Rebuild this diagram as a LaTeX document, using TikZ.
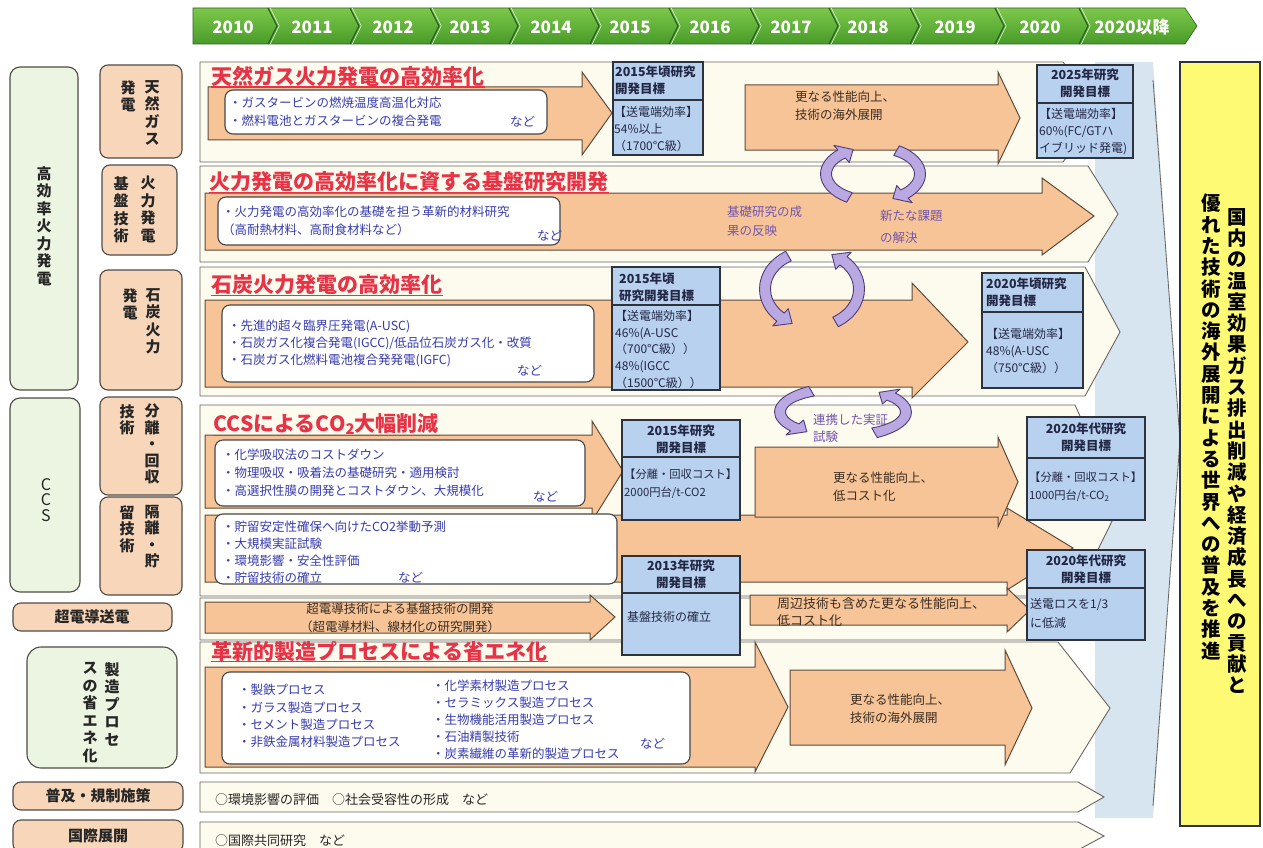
\documentclass[tikz,border=0pt]{standalone}
\usepackage{fontspec}
\setmainfont{Noto Sans CJK JP}
\usetikzlibrary{calc}
\definecolor{cream}{RGB}{253,250,238}
\definecolor{rowline}{RGB}{105,100,95}
\definecolor{orng}{RGB}{246,196,150}
\definecolor{orngline}{RGB}{95,75,60}
\definecolor{lblue}{RGB}{184,209,238}
\definecolor{bline}{RGB}{45,50,60}
\definecolor{btext}{RGB}{35,40,70}
\definecolor{wline}{RGB}{70,70,75}
\definecolor{bluetxt}{RGB}{55,60,175}
\definecolor{titlered}{RGB}{232,50,70}
\definecolor{peach}{RGB}{247,214,186}
\definecolor{pgreen}{RGB}{236,245,226}
\definecolor{lbline}{RGB}{80,75,70}
\definecolor{ygold}{RGB}{255,250,115}
\definecolor{bigblue}{RGB}{214,229,240}
\definecolor{yrtop}{RGB}{125,200,75}
\definecolor{yrbot}{RGB}{72,155,40}
\definecolor{yrdark}{RGB}{40,100,28}
\definecolor{purpf}{RGB}{185,168,225}
\definecolor{purpd}{RGB}{80,60,120}
\definecolor{purptxt}{RGB}{115,85,175}
\definecolor{darktxt}{RGB}{60,45,35}
\newcommand{\fsz}[2]{\fontsize{#1}{#2}\selectfont}
% curved (elliptic) arrow: cx cy rx ry start end tip halfwidth
\newcommand{\cyc}[8]{%
 \pgfmathsetmacro{\rxo}{#3+#8}\pgfmathsetmacro{\ryo}{#4+#8}%
 \pgfmathsetmacro{\rxi}{#3-#8}\pgfmathsetmacro{\ryi}{#4-#8}%
 \pgfmathsetmacro{\rxa}{#3+2.1*#8}\pgfmathsetmacro{\rya}{#4+2.1*#8}%
 \pgfmathsetmacro{\rxb}{#3-2.1*#8}\pgfmathsetmacro{\ryb}{#4-2.1*#8}%
 \filldraw[cyca,shift={(#1,#2)}] ({#5}:{\rxo} and {\ryo}) arc[start angle=#5,end angle=#6,x radius=\rxo,y radius=\ryo]
   -- ({#6}:{\rxa} and {\rya}) -- ({#7}:{#3} and {#4}) -- ({#6}:{\rxb} and {\ryb})
   -- ({#6}:{\rxi} and {\ryi}) arc[start angle=#6,end angle=#5,x radius=\rxi,y radius=\ryi] -- cycle;}
\tikzset{
 rowbg/.style={fill=cream, draw=rowline, line width=0.9pt},
 oarrow/.style={fill=orng, draw=orngline, line width=1pt, line join=miter},
 wbox/.style={fill=white, draw=wline, line width=1.1pt, rounded corners=8pt},
 bbox/.style={fill=lblue, draw=bline, line width=1.4pt},
 wtxt/.style={font=\fsz{12.5}{17.5}, text=bluetxt, align=left, inner sep=0pt, anchor=north west},
 otxt/.style={font=\fsz{12.5}{18}, text=darktxt, align=left, inner sep=0pt, anchor=north west},
 ptxt/.style={font=\fsz{12.5}{19}, text=purptxt, align=left, inner sep=0pt, anchor=north west},
 hdr/.style={font=\bfseries\fsz{12.5}{17}, text=btext, inner sep=0pt, anchor=north, align=center},
 hdrl/.style={font=\bfseries\fsz{12.5}{17}, text=btext, inner sep=0pt, anchor=north west, align=left},
 bdy/.style={font=\fsz{12}{17}, text=btext, align=left, inner sep=0pt, anchor=north west},
 ttl/.style={font=\bfseries\fsz{21}{24}, text=titlered, inner sep=0.5pt, anchor=west},
 lbox/.style={fill=peach, draw=lbline, line width=1.1pt, rounded corners=8pt},
 gbox/.style={fill=pgreen, draw=lbline, line width=1.1pt, rounded corners=10pt},
 vtxt/.style={font=\bfseries\fsz{15}{17.5}, text=black!85, align=center, inner sep=0pt, anchor=north},
 htxt/.style={font=\bfseries\fsz{15}{17}, text=black!85, inner sep=0pt},
 ytxt/.style={font=\bfseries\fsz{19.5}{21.3}, align=center, inner sep=0pt, anchor=north},
 yrl/.style={font=\bfseries\fsz{17}{19}, text=white, inner sep=0pt},
 cyca/.style={fill=purpf, draw=purpd, line width=0.9pt, line join=round},
 rtxt/.style={font=\fsz{13}{17}, text=black!85, inner sep=0pt, anchor=west},
 ulred/.style={titlered, line width=1.3pt},
}
\begin{document}
\begin{tikzpicture}[x=1pt,y=-1pt]
\useasboundingbox (0,0) rectangle (1263,848);
\fill[white] (0,0) rectangle (1263,848);

% ---------- year bar ----------
\path[top color=yrtop, bottom color=yrbot, draw=yrdark, line width=0.6pt]
  (193,8) -- (1185,8) -- (1197,26) -- (1185,44) -- (193,44) -- cycle;
\foreach \s in {268,350,430,509,590,669,750,829,910,995,1079} {
  \draw[yrdark, line width=1.3pt] (\s,8) -- (\s+9,26) -- (\s,44);
  \draw[white!70!yrtop, line width=0.7pt] (\s+2.2,8) -- (\s+11.2,26) -- (\s+2.2,44);
}
\foreach \x/\t [count=\i] in {233/2010,312/2011,393/2012,470/2013,551/2014,630/2015,710/2016,791/2017,868/2018,955/2019,1040/2020,1132/2020以降}
  \node[yrl] (yr\i) at (\x,27) {\t};

% ---------- big light-blue arrow and yellow goal box ----------
\fill[bigblue] (1095,62) -- (1153,62) -- (1180,440) -- (1153,818) -- (1095,818) -- cycle;
\draw[rowline, line width=0.8pt] (1153,80) -- (1180,440) -- (1153,806);
\draw[fill=ygold, draw=bline, line width=1.4pt] (1180,62) rectangle (1260,826);
\node[ytxt] (goal1) at (1237,208) {国\\内\\の\\温\\室\\効\\果\\ガ\\ス\\排\\出\\削\\減\\や\\経\\済\\成\\長\\へ\\の\\貢\\献\\と};
\node[ytxt] (goal2) at (1211,194) {優\\れ\\た\\技\\術\\の\\海\\外\\展\\開\\に\\よ\\る\\世\\界\\へ\\の\\普\\及\\を\\推\\進};

% ---------- left labels ----------
\draw[gbox] (10,67) rectangle (78,390);
\node[vtxt] (lA) at (44,166) {高\\効\\率\\火\\力\\発\\電};
\draw[lbox] (100,65) rectangle (182,158);
\node[vtxt] (lA1a) at (152,80) {天\\然\\ガ\\ス};
\node[vtxt] (lA1b) at (128,80) {発\\電};
\draw[lbox] (102,165) rectangle (177,255);
\node[vtxt] (lA2a) at (148,176) {火\\力\\発\\電};
\node[vtxt] (lA2b) at (121,176) {基\\盤\\技\\術};
\draw[lbox] (100,270) rectangle (182,390);
\node[vtxt] (lA3a) at (153,288) {石\\炭\\火\\力};
\node[vtxt] (lA3b) at (130,288) {発\\電};
\draw[gbox] (10,398) rectangle (80,592);
\node[vtxt, font=\fsz{16}{15.5}] (lB) at (46,478) {C\\C\\S};
\draw[lbox] (100,397) rectangle (182,495);
\node[vtxt, font=\bfseries\fsz{15}{16.5}] (lB1a) at (152,404) {分\\離\\・\\回\\収};
\node[vtxt, font=\bfseries\fsz{15}{16.5}] (lB1b) at (127,404) {技\\術};
\draw[lbox] (100,497) rectangle (182,595);
\node[vtxt, font=\bfseries\fsz{15}{16.5}] (lB2a) at (152,505) {隔\\離\\・\\貯};
\node[vtxt, font=\bfseries\fsz{15}{16.5}] (lB2b) at (127,505) {留\\技\\術};
\draw[lbox] (13,603) rectangle (172,631);
\node[htxt] (lC) at (92,617) {超電導送電};
\draw[gbox, rounded corners=14pt] (27,647) rectangle (177,768);
\node[vtxt] (lDa) at (112,662) {製\\造\\プ\\ロ\\セ};
\node[vtxt] (lDb) at (90,662) {ス\\の\\省\\エ\\ネ\\化};
\draw[lbox] (13,782) rectangle (183,810);
\node[htxt] (lE) at (98,796) {普及・規制施策};
\draw[lbox] (13,820) rectangle (183,852);
\node[htxt] (lF) at (98,836) {国際展開};

% ---------- row backgrounds ----------
\draw[rowbg] (200,62) -- (1063,62) -- (1100,112) -- (1063,162) -- (200,162) -- cycle;
\draw[rowbg] (200,166) -- (1088,166) -- (1118,214) -- (1088,262) -- (200,262) -- cycle;
\draw[rowbg] (200,267) -- (1085,267) -- (1120,332) -- (1085,396) -- (200,396) -- cycle;
\draw[rowbg] (200,405) -- (1075,405) -- (1120,505) -- (1075,596) -- (200,596) -- cycle;
\draw[rowbg] (200,598) -- (1040,598) -- (1062,619) -- (1040,640) -- (200,640) -- cycle;
\draw[rowbg] (200,642) -- (1058,642) -- (1110,708) -- (1070,773) -- (200,773) -- cycle;
\draw[rowbg] (200,782) -- (1078,782) -- (1104,797) -- (1078,812) -- (200,812) -- cycle;
\draw[rowbg] (200,822) -- (1078,822) -- (1104,836) -- (1078,850) -- (200,850) -- cycle;

% ---------- orange arrows ----------
% row 1
\draw[oarrow] (208,87) -- (582,87) -- (582,72) -- (612,113) -- (582,155) -- (582,140) -- (208,140) -- cycle;
\draw[oarrow] (745,85) -- (998,85) -- (998,72) -- (1020,118) -- (998,164) -- (998,150) -- (745,150) -- cycle;
% row 2
\draw[oarrow] (205,193) -- (1042,193) -- (1042,178) -- (1094,216) -- (1042,255) -- (1042,250) -- (205,250) -- cycle;
% row 3
\draw[oarrow] (205,300) -- (912,300) -- (912,283) -- (968,342) -- (912,398) -- (912,387) -- (205,387) -- cycle;
% CCS
\draw[oarrow] (205,515) -- (1007,515) -- (1007,508) -- (1073,548) -- (1007,590) -- (1007,582) -- (205,582) -- cycle;
\draw[oarrow] (205,435) -- (592,435) -- (592,421) -- (623,471) -- (592,521) -- (592,508) -- (205,508) -- cycle;
\draw[oarrow] (755,447) -- (998,447) -- (998,437) -- (1018,482) -- (998,527) -- (998,517) -- (755,517) -- cycle;
% superconducting
\draw[oarrow] (205,602) -- (590,602) -- (590,595) -- (615,617) -- (590,640) -- (590,633) -- (205,633) -- cycle;
\draw[oarrow] (750,595) -- (1007,595) -- (1007,588) -- (1030,610) -- (1007,632) -- (1007,625) -- (750,625) -- cycle;
% manufacturing
\draw[oarrow] (205,667) -- (755,667) -- (755,642) -- (788,707) -- (755,772) -- (755,767) -- (205,767) -- cycle;
\draw[oarrow] (790,670) -- (1005,670) -- (1005,650) -- (1032,708) -- (1005,765) -- (1005,745) -- (790,745) -- cycle;

% ---------- white boxes with items ----------
\draw[wbox] (225,90) rectangle (547,134);
\node[wtxt, font=\fsz{12.5}{18}] (w1) at (229,97) {・ガスタービンの燃焼温度高温化対応\\・燃料電池とガスタービンの複合発電};
\node[wtxt, anchor=west] (w1n) at (510,122) {など};
\draw[wbox] (218,197) rectangle (560,245);
\node[wtxt, font=\fsz{12.5}{18}] (w2) at (222,206) {・火力発電の高効率化の基礎を担う革新的材料研究\\（高耐熱材料、高耐食材料など）};
\node[wtxt, anchor=west] (w2n) at (537,236) {など};
\draw[wbox] (222,305) rectangle (594,382);
\node[wtxt, font=\fsz{12.5}{17}] (w3) at (228,320) {・先進的超々臨界圧発電(A-USC)\\・石炭ガス化複合発電(IGCC)/低品位石炭ガス化・改質\\・石炭ガス化燃料電池複合発発電(IGFC)};
\node[wtxt, anchor=west] (w3n) at (517,371) {など};
\draw[wbox] (215,440) rectangle (585,506);
\node[wtxt, font=\fsz{12.5}{18}] (w4) at (222,449) {・化学吸収法のコストダウン\\・物理吸収・吸着法の基礎研究・適用検討\\・高選択性膜の開発とコストダウン、大規模化};
\node[wtxt, anchor=west] (w4n) at (533,497) {など};
\draw[wbox] (215,514) rectangle (617,584);
\node[wtxt, font=\fsz{12.5}{17}] (w5) at (222,521) {・貯留安定性確保へ向けたCO2挙動予測\\・大規模実証試験\\・環境影響・安全性評価\\・貯留技術の確立};
\node[wtxt, anchor=west] (w5n) at (398,578) {など};
\draw[wbox] (222,672) rectangle (690,764);
\node[wtxt, font=\fsz{12.5}{17.4}] (w6a) at (238,684) {・製鉄プロセス\\・ガラス製造プロセス\\・セメント製造プロセス\\・非鉄金属材料製造プロセス};
\node[wtxt, font=\fsz{12.5}{17}] (w6b) at (432,680) {・化学素材製造プロセス\\・セラミックス製造プロセス\\・生物機能活用製造プロセス\\・石油精製技術\\・炭素繊維の革新的製造プロセス};
\node[wtxt, anchor=west] (w6n) at (640,744) {など};

% ---------- light-blue target boxes ----------
\draw[bbox] (613,62) rectangle (703,155); \draw[bline, line width=1.4pt] (613,100) -- (703,100);
\node[hdrl] (b1h) at (615,66) {2015年頃研究\\開発目標};
\node[bdy] (b1b) at (614,106) {【送電端効率】\\54\%以上\\（1700℃級）};

\draw[bbox] (1037,65) rectangle (1133,158); \draw[bline, line width=1.4pt] (1037,103) -- (1133,103);
\node[hdr] (b2h) at (1085,69) {2025年研究\\開発目標};
\node[bdy] (b2b) at (1039,108) {【送電端効率】\\60\%(FC/GTハ\\イブリッド発電)};

\draw[bbox] (612,267) rectangle (720,390); \draw[bline, line width=1.4pt] (612,305) -- (720,305);
\node[hdrl] (b3h) at (619,273) {2015年頃\\研究開発目標};
\node[bdy, font=\fsz{12}{16.7}] (b3b) at (615,310) {【送電端効率】\\46\%(A-USC\\（700℃級））\\48\%(IGCC\\（1500℃級））};

\draw[bbox] (982,273) rectangle (1083,388); \draw[bline, line width=1.4pt] (982,312) -- (1083,312);
\node[hdrl] (b4h) at (986,278) {2020年頃研究\\開発目標};
\node[bdy] (b4b) at (986,328) {【送電端効率】\\48\%(A-USC\\（750℃級））};

\draw[bbox] (622,420) rectangle (740,520); \draw[bline, line width=1.4pt] (622,457) -- (740,457);
\node[hdr] (b5h) at (681,425) {2015年研究\\開発目標};
\node[bdy, font=\fsz{11.3}{18}] (b5b) at (624,469) {【分離・回収コスト】\\2000円台/t-CO2};

\draw[bbox] (1027,417) rectangle (1145,520); \draw[bline, line width=1.4pt] (1027,458) -- (1145,458);
\node[hdr] (b6h) at (1086,423) {2020年代研究\\開発目標};
\node[bdy, font=\fsz{11.3}{18}] (b6b) at (1029,472) {【分離・回収コスト】\\1000円台/t-CO\textsubscript{2}};

\draw[bbox] (622,556) rectangle (740,655); \draw[bline, line width=1.4pt] (622,593) -- (740,593);
\node[hdr] (b7h) at (681,560) {2013年研究\\開発目標};
\node[bdy, anchor=west] (b7b) at (627,617) {基盤技術の確立};

\draw[bbox] (1027,550) rectangle (1145,640); \draw[bline, line width=1.4pt] (1027,588) -- (1145,588);
\node[hdr] (b8h) at (1086,555) {2020年代研究\\開発目標};
\node[bdy, font=\fsz{12}{19}] (b8b) at (1030,598) {送電ロスを1/3\\に低減};

% ---------- texts on orange arrows ----------
\node[otxt] (o1) at (795,91) {更なる性能向上、\\技術の海外展開};
\node[otxt] (o4) at (833,472) {更なる性能向上、\\低コスト化};
\node[otxt, align=center, anchor=north] (o5) at (400,603) {超電導技術による基盤技術の開発\\（超電導材料、線材化の研究開発）};
\node[otxt, font=\fsz{13}{17}] (o5b) at (777,597) {周辺技術も含めた更なる性能向上、\\低コスト化};
\node[otxt] (o6) at (850,694) {更なる性能向上、\\技術の海外展開};
\node[ptxt] (p1) at (727,206) {基礎研究の成\\果の反映};
\node[ptxt, font=\fsz{12.5}{22}] (p2) at (880,210) {新たな課題\\の解決};
\node[ptxt, font=\fsz{12.5}{17}] (p3) at (813,414) {連携した実証\\試験};

% ---------- cycle arrows ----------
\cyc{873}{174}{47}{27}{120}{228}{245}{5.5}
\cyc{873}{174}{47}{27}{300}{408}{425}{5.5}
\cyc{812}{289}{47}{38}{240}{132}{115}{5.5}
\cyc{812}{289}{47}{38}{60}{-48}{-65}{5.5}
\cyc{843}{412}{63}{24}{240}{140}{125}{5.5}
\cyc{843}{412}{63}{24}{60}{-40}{-55}{5.5}

% ---------- titles ----------
\node[ttl] (t1) at (211,76) {天然ガス火力発電の高効率化};
\draw[ulred] (t1.south west) -- (t1.south east);
\node[ttl] (t2) at (209,182) {火力発電の高効率化に資する基盤研究開発};
\draw[ulred] (t2.south west) -- (t2.south east);
\node[ttl] (t3) at (211,285) {石炭火力発電の高効率化};
\draw[ulred] (t3.south west) -- (t3.south east);
\node[ttl] (t4) at (213,424) {CCSによるCO\textsubscript{2}大幅削減};
\draw[ulred] (t4.south west) -- (t4.south east);
\node[ttl] (t6) at (211,651) {革新的製造プロセスによる省エネ化};
\draw[ulred] (t6.south west) -- (t6.south east);

% ---------- policy rows ----------
\node[rtxt] (r7) at (215,800) {○環境影響の評価　○社会受容性の形成　など};
\node[rtxt] (r8) at (215,841) {○国際共同研究　など};
\end{tikzpicture}
\end{document}
